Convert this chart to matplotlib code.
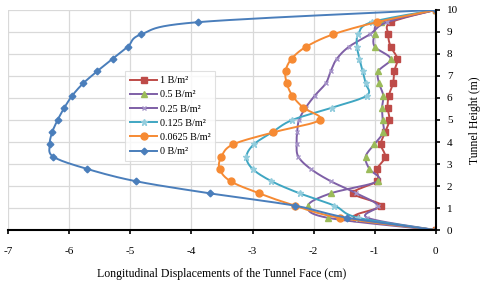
import matplotlib
matplotlib.use("Agg")
import matplotlib.pyplot as plt
import numpy as np

plt.rcParams["font.family"] = ["Liberation Serif", "DejaVu Serif"]
plt.rcParams["axes.unicode_minus"] = False

# tunnel height of each reading (m), bottom to top
height = [0, 0.56, 1.11, 1.67, 2.22, 2.78, 3.33, 3.89, 4.44, 5.0,
          5.56, 6.11, 6.67, 7.22, 7.78, 8.33, 8.89, 9.44, 10]

# longitudinal displacement (cm) for each bolt density
d_1 = [0, -1.31, -0.89, -1.35, -0.97, -0.96, -0.83, -0.90, -0.83, -0.76,
       -0.79, -0.77, -0.70, -0.68, -0.63, -0.74, -0.78, -0.73, 0]
d_05 = [0, -1.77, -2.09, -1.72, -0.95, -1.09, -1.15, -1.01, -0.86, -0.87,
        -0.88, -0.86, -0.93, -0.94, -0.74, -1.00, -1.00, -0.89, 0]
d_025 = [0, -1.12, -0.95, -1.30, -1.72, -2.05, -2.25, -2.28, -2.27, -2.24,
         -2.13, -1.98, -1.80, -1.72, -1.62, -1.42, -1.08, -0.80, 0]
d_0125 = [0, -1.27, -1.66, -2.23, -2.69, -3.00, -3.10, -2.98, -2.68, -2.35,
          -1.70, -1.13, -1.15, -1.20, -1.25, -1.29, -1.27, -1.05, 0]
d_00625 = [0, -1.57, -2.31, -2.89, -3.36, -3.54, -3.51, -3.32, -2.66, -1.90,
           -2.17, -2.35, -2.44, -2.46, -2.36, -2.12, -1.68, -0.97, 0]
d_0 = [0, -1.45, -2.31, -3.70, -4.91, -5.71, -6.26, -6.32, -6.28, -6.19,
       -6.08, -5.95, -5.77, -5.54, -5.29, -5.04, -4.82, -3.90, 0]

labels = ["1 B/m²", "0.5 B/m²", "0.25 B/m²", "0.125 B/m²", "0.0625 B/m²", "0 B/m²"]


def smooth(x, y, n=12):
    # catmull-rom through the points, like excel's smoothed line
    p = np.column_stack([x, y]).astype(float)
    p = np.vstack([p[0], p, p[-1]])
    out = []
    t = np.linspace(0, 1, n, endpoint=False)[:, None]
    for i in range(1, len(p) - 2):
        p0, p1, p2, p3 = p[i - 1], p[i], p[i + 1], p[i + 2]
        seg = 0.5 * ((2 * p1) + (-p0 + p2) * t
                     + (2 * p0 - 5 * p1 + 4 * p2 - p3) * t ** 2
                     + (-p0 + 3 * p1 - 3 * p2 + p3) * t ** 3)
        out.append(seg)
    out.append(p[-2][None, :])
    out = np.vstack(out)
    return out[:, 0], out[:, 1]


fig = plt.figure(figsize=(4.8, 2.82), dpi=100)
ax = fig.add_axes([0.017, 0.184, 0.891, 0.781])

styles = [
    (d_1, "#BE4B48", "#BE4B48", "s", 5),
    (d_05, "#7E5FA6", "#9BBB59", "^", 5),
    (d_025, "#7E5FA6", "#A593C8", "x", 3.5),
    (d_0125, "#3FA6C2", "#93CDDD", "*", 4.5),
    (d_00625, "#F68A33", "#F68A33", "o", 5),
    (d_0, "#4A7EBB", "#4A7EBB", "D", 3.4),
]

for (vals, lc, mc, mk, ms), lab in zip(styles, labels):
    sx, sy = smooth(vals, height)
    ax.plot(sx, sy, color=lc, lw=1.4)
    ax.plot(vals, height, ls="none", marker=mk, ms=ms, color=mc,
            markeredgecolor=mc, mew=1)
    ax.plot([], [], color=lc, lw=1.4, marker=mk, ms=ms, mfc=mc, mec=mc,
            label=lab)

ax.set_xlim(-7, 0)
ax.set_ylim(0, 10)
ax.set_xticks(range(-7, 1))
ax.set_yticks(range(0, 11))
ax.grid(True, color="#d9d9d9", lw=0.9)
ax.set_axisbelow(True)

ax.yaxis.tick_right()
ax.yaxis.set_label_position("right")
ax.spines["left"].set_visible(False)
ax.spines["top"].set_visible(False)
ax.spines["bottom"].set_linewidth(1.5)
ax.spines["right"].set_linewidth(1.5)
ax.tick_params(axis="both", labelsize=8, length=3, width=1.2, direction="out")
ax.tick_params(axis="x", pad=9)
ax.tick_params(axis="y", pad=5)

ax.set_xlabel("Longitudinal Displacements of the Tunnel Face (cm)", fontsize=8.5,
              labelpad=9)
ax.set_ylabel("Tunnel Height (m)", fontsize=8.5, labelpad=8)

leg = ax.legend(loc="upper left", bbox_to_anchor=(0.262, 0.745), fontsize=7.3,
                frameon=True, fancybox=False, edgecolor="#d9d9d9",
                handlelength=2.6, borderpad=0.5, labelspacing=0.5,
                handletextpad=0.3)
leg.get_frame().set_linewidth(0.8)

plt.savefig("out.png", dpi=100)
